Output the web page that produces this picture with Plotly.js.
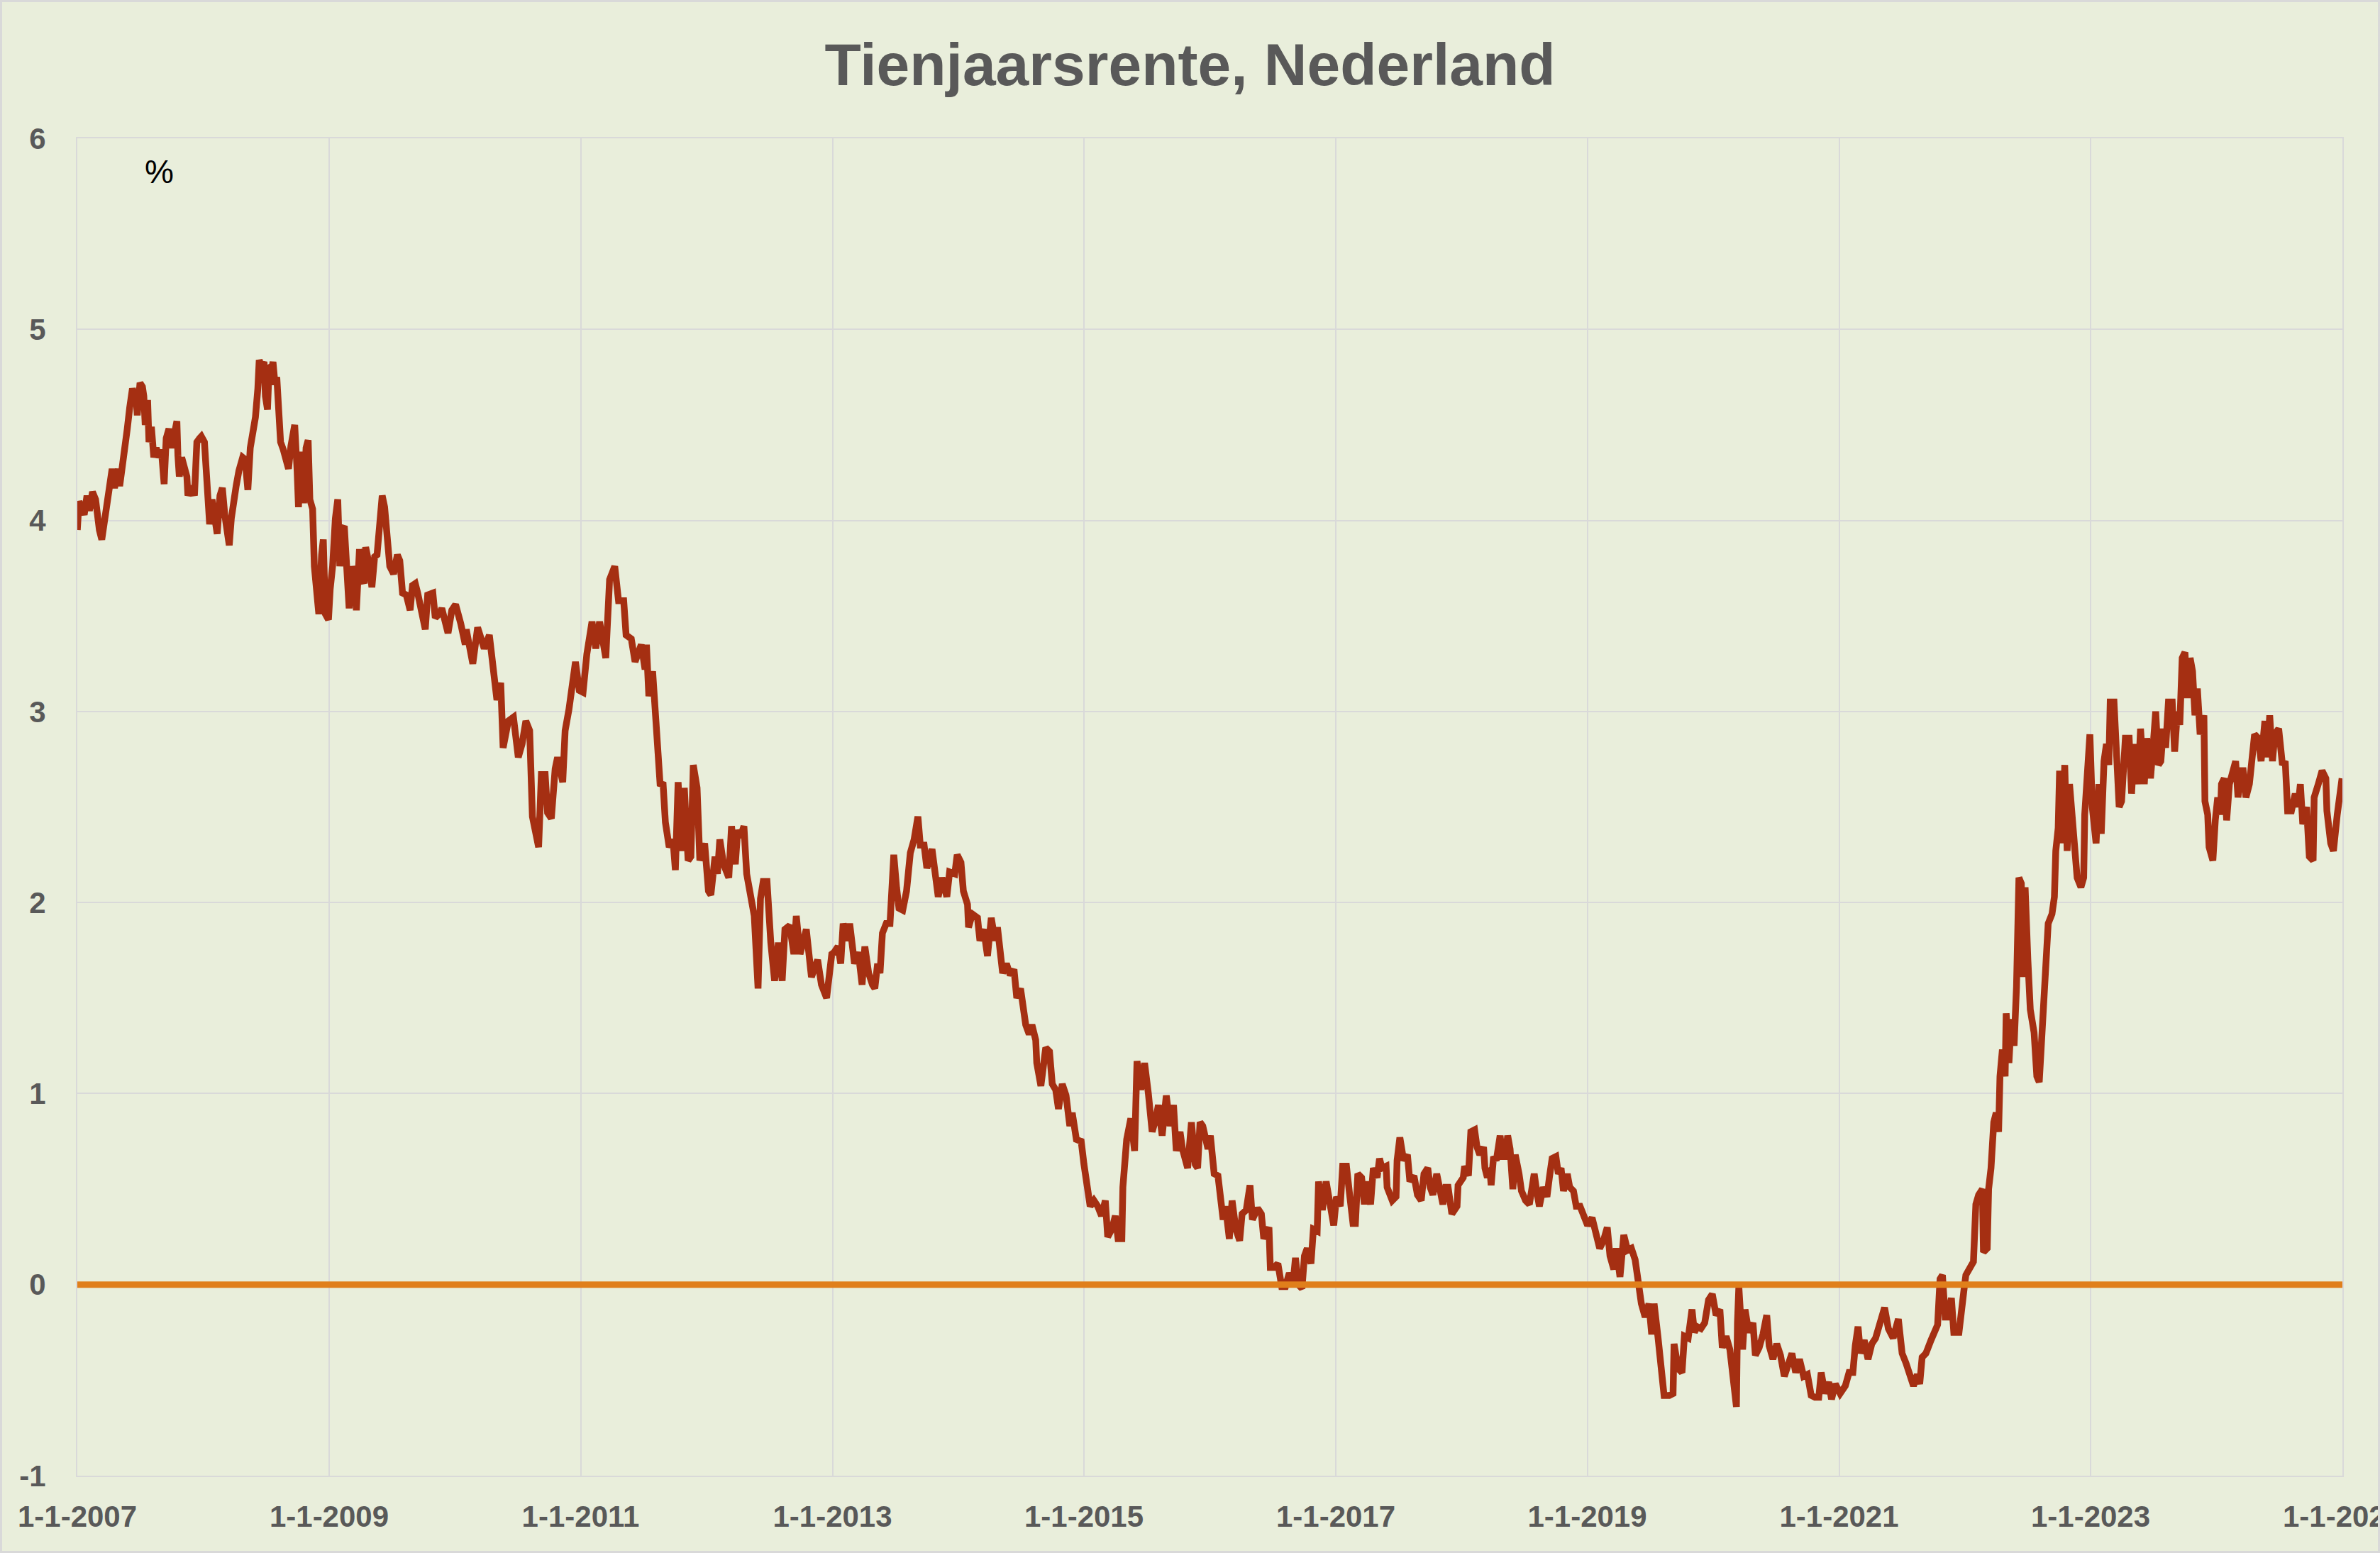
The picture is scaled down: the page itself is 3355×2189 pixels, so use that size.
<!DOCTYPE html>
<html>
<head>
<meta charset="utf-8">
<script src="https://cdn.plot.ly/plotly-3.0.1.min.js"></script>
<style>
  html, body { margin: 0; padding: 0; background: #E9EEDB; overflow: hidden; }
  #chart { width: 3349px; height: 2183px; border: 3px solid #D9D9D9; }
</style>
</head>
<body>
<div id="chart"></div>
<script>
// ---- DATA ----
// Observation time as decimal year, and the Dutch 10-year yield in %.
const obsYear = [
  // 2007 - early 2010
  2007.000, 2007.016, 2007.056, 2007.077, 2007.097, 2007.123, 2007.147, 2007.157, 2007.177, 2007.197,
  2007.218, 2007.238, 2007.278, 2007.298, 2007.328, 2007.338, 2007.359, 2007.379, 2007.399, 2007.419,
  2007.439, 2007.469, 2007.479, 2007.499, 2007.520, 2007.530, 2007.540, 2007.560, 2007.570, 2007.590,
  2007.610, 2007.630, 2007.651, 2007.671, 2007.691, 2007.707, 2007.731, 2007.751, 2007.771, 2007.792,
  2007.802, 2007.812, 2007.832, 2007.852, 2007.872, 2007.882, 2007.912, 2007.933, 2007.943, 2007.953,
  2007.973, 2007.989, 2008.013, 2008.033, 2008.053, 2008.073, 2008.094, 2008.114, 2008.134, 2008.154,
  2008.174, 2008.194, 2008.210, 2008.225, 2008.245, 2008.265, 2008.285, 2008.315, 2008.335, 2008.356,
  2008.376, 2008.396, 2008.416, 2008.436, 2008.446, 2008.466, 2008.486, 2008.496, 2008.513, 2008.527,
  2008.547, 2008.557, 2008.573, 2008.587, 2008.607, 2008.617, 2008.637, 2008.658, 2008.678, 2008.698,
  2008.728, 2008.748, 2008.758, 2008.778, 2008.798, 2008.819, 2008.835, 2008.849, 2008.869, 2008.883,
  2008.899, 2008.919, 2008.940, 2008.956, 2008.970, 2008.996, 2009.010, 2009.030, 2009.050, 2009.070,
  2009.085, 2009.101, 2009.121, 2009.141, 2009.161, 2009.181, 2009.201, 2009.217, 2009.242, 2009.262,
  2009.282, 2009.292, 2009.322, 2009.342, 2009.362, 2009.382, 2009.402, 2009.422, 2009.443, 2009.463,
  2009.483, 2009.513, 2009.543, 2009.564, 2009.584, 2009.614, 2009.644, 2009.664, 2009.685, 2009.705,
  2009.735, 2009.765, 2009.785, 2009.826, 2009.846, 2009.876, 2009.896, 2009.916, 2009.946, 2009.977,
  2010.007, 2010.047,
  // 2010 - 2012
  2010.083, 2010.093, 2010.143, 2010.183, 2010.234, 2010.274, 2010.304, 2010.335, 2010.365, 2010.385,
  2010.425, 2010.466, 2010.506, 2010.536, 2010.567, 2010.597, 2010.617, 2010.647, 2010.667, 2010.688,
  2010.718, 2010.738, 2010.768, 2010.798, 2010.819, 2010.859, 2010.879, 2010.909, 2010.940, 2010.960,
  2010.990, 2011.020, 2011.050, 2011.091, 2011.121, 2011.151, 2011.202, 2011.232, 2011.272, 2011.302,
  2011.343, 2011.363, 2011.403, 2011.433, 2011.484, 2011.514, 2011.524, 2011.544, 2011.575, 2011.605,
  2011.635, 2011.655, 2011.675, 2011.706, 2011.736, 2011.756, 2011.776, 2011.806, 2011.827, 2011.857,
  2011.877, 2011.897, 2011.927, 2011.948, 2011.988, 2012.018, 2012.038, 2012.069, 2012.089, 2012.109,
  2012.139, 2012.179, 2012.200, 2012.230, 2012.250, 2012.270, 2012.300, 2012.321, 2012.351, 2012.381,
  2012.411, 2012.431, 2012.452, 2012.482, 2012.512, 2012.542, 2012.573, 2012.603, 2012.623, 2012.663,
  2012.694, 2012.714, 2012.744, 2012.794, 2012.835, 2012.885, 2012.915, 2012.956, 2012.996,
  // 2013 - 2015
  2013.016, 2013.046, 2013.066, 2013.087, 2013.117, 2013.137, 2013.157, 2013.177, 2013.207, 2013.238,
  2013.258, 2013.288, 2013.318, 2013.338, 2013.359, 2013.379, 2013.399, 2013.429, 2013.459, 2013.469,
  2013.489, 2013.510, 2013.530, 2013.560, 2013.590, 2013.620, 2013.651, 2013.681, 2013.701, 2013.731,
  2013.751, 2013.792, 2013.822, 2013.842, 2013.872, 2013.912, 2013.933, 2013.973, 2013.993, 2014.023,
  2014.043, 2014.074, 2014.084, 2014.114, 2014.154, 2014.174, 2014.204, 2014.235, 2014.265, 2014.295,
  2014.315, 2014.335, 2014.355, 2014.386, 2014.416, 2014.446, 2014.466, 2014.496, 2014.517, 2014.537,
  2014.567, 2014.587, 2014.617, 2014.627, 2014.658, 2014.678, 2014.698, 2014.728, 2014.748, 2014.778,
  2014.799, 2014.829, 2014.859, 2014.889, 2014.909, 2014.940, 2014.980, 2015.000, 2015.030, 2015.050,
  2015.081, 2015.111, 2015.141, 2015.171, 2015.191, 2015.222, 2015.252, 2015.272, 2015.302, 2015.312,
  2015.342, 2015.373, 2015.403, 2015.423, 2015.453, 2015.483, 2015.514, 2015.544, 2015.574, 2015.594,
  2015.624, 2015.655, 2015.685, 2015.715, 2015.735, 2015.765, 2015.786, 2015.826, 2015.856, 2015.886,
  2015.906, 2015.926,
  // 2016 - 2018
  2015.947, 2015.987, 2016.007, 2016.037, 2016.068, 2016.088, 2016.108, 2016.128, 2016.158, 2016.179,
  2016.209, 2016.239, 2016.259, 2016.290, 2016.320, 2016.340, 2016.380, 2016.411, 2016.431, 2016.471,
  2016.481, 2016.512, 2016.542, 2016.572, 2016.602, 2016.633, 2016.663, 2016.683, 2016.703, 2016.734,
  2016.754, 2016.774, 2016.804, 2016.824, 2016.855, 2016.865, 2016.895, 2016.925, 2016.956, 2016.986,
  2017.006, 2017.036, 2017.057, 2017.087, 2017.107, 2017.137, 2017.157, 2017.178, 2017.208, 2017.228,
  2017.248, 2017.279, 2017.299, 2017.329, 2017.349, 2017.369, 2017.400, 2017.410, 2017.450, 2017.480,
  2017.490, 2017.511, 2017.541, 2017.571, 2017.591, 2017.622, 2017.652, 2017.682, 2017.702, 2017.733,
  2017.753, 2017.773, 2017.803, 2017.823, 2017.854, 2017.874, 2017.894, 2017.924, 2017.965, 2017.975,
  2018.015, 2018.025, 2018.056, 2018.076, 2018.106, 2018.126, 2018.146, 2018.177, 2018.187, 2018.207,
  2018.227, 2018.237, 2018.257, 2018.277, 2018.308, 2018.328, 2018.348, 2018.368, 2018.389, 2018.409,
  2018.429, 2018.459, 2018.479, 2018.510, 2018.540, 2018.560, 2018.580, 2018.600, 2018.621, 2018.651,
  2018.681, 2018.701, 2018.722, 2018.752, 2018.772, 2018.792, 2018.812, 2018.843, 2018.863, 2018.893,
  2018.913, 2018.943, 2018.974, 2019.004,
  // 2019 - 2021
  2019.040, 2019.070, 2019.101, 2019.131, 2019.161, 2019.181, 2019.211, 2019.231, 2019.261, 2019.291,
  2019.322, 2019.352, 2019.382, 2019.412, 2019.432, 2019.462, 2019.492, 2019.513, 2019.533, 2019.563,
  2019.583, 2019.613, 2019.653, 2019.683, 2019.693, 2019.724, 2019.754, 2019.774, 2019.804, 2019.834,
  2019.854, 2019.874, 2019.905, 2019.935, 2019.965, 2019.995, 2020.025, 2020.055, 2020.075, 2020.106,
  2020.136, 2020.156, 2020.186, 2020.196, 2020.206, 2020.236, 2020.256, 2020.286, 2020.317, 2020.337,
  2020.367, 2020.397, 2020.427, 2020.447, 2020.477, 2020.508, 2020.538, 2020.568, 2020.598, 2020.628,
  2020.658, 2020.688, 2020.719, 2020.749, 2020.779, 2020.809, 2020.839, 2020.859, 2020.889, 2020.920,
  2020.940, 2020.970, 2021.010, 2021.050, 2021.080, 2021.111, 2021.131, 2021.151, 2021.171, 2021.201,
  2021.231, 2021.261, 2021.291, 2021.312, 2021.342, 2021.362, 2021.392, 2021.432, 2021.472, 2021.503,
  2021.533, 2021.563, 2021.593, 2021.623, 2021.643, 2021.663, 2021.693, 2021.734, 2021.764, 2021.784,
  2021.804, 2021.824, 2021.844, 2021.864, 2021.894, 2021.915, 2021.955, 2021.975, 2021.995,
  // 2022 - 2024
  2022.009, 2022.039, 2022.069, 2022.090, 2022.110, 2022.140, 2022.150, 2022.180, 2022.190, 2022.210,
  2022.231, 2022.251, 2022.271, 2022.281, 2022.301, 2022.321, 2022.331, 2022.351, 2022.372, 2022.392,
  2022.412, 2022.432, 2022.452, 2022.462, 2022.482, 2022.503, 2022.523, 2022.553, 2022.573, 2022.593,
  2022.613, 2022.644, 2022.664, 2022.694, 2022.714, 2022.724, 2022.744, 2022.754, 2022.774, 2022.795,
  2022.815, 2022.835, 2022.855, 2022.875, 2022.895, 2022.925, 2022.946, 2022.956, 2022.976, 2022.996,
  2023.016, 2023.036, 2023.046, 2023.066, 2023.087, 2023.107, 2023.127, 2023.147, 2023.157, 2023.187,
  2023.207, 2023.228, 2023.248, 2023.278, 2023.308, 2023.328, 2023.348, 2023.379, 2023.399, 2023.429,
  2023.449, 2023.479, 2023.500, 2023.520, 2023.540, 2023.560, 2023.580, 2023.600, 2023.620, 2023.651,
  2023.671, 2023.691, 2023.711, 2023.731, 2023.751, 2023.771, 2023.792, 2023.812, 2023.832, 2023.852,
  2023.872, 2023.902, 2023.912, 2023.933, 2023.943, 2023.973, 2023.993, 2024.013, 2024.033, 2024.043,
  2024.063, 2024.084, 2024.104, 2024.134, 2024.154, 2024.174, 2024.194, 2024.215, 2024.235, 2024.265,
  2024.285, 2024.305, 2024.335, 2024.356, 2024.386, 2024.406, 2024.426, 2024.446, 2024.466, 2024.496,
  2024.527, 2024.547, 2024.567, 2024.597, 2024.627, 2024.648, 2024.668, 2024.688, 2024.718, 2024.738,
  2024.768, 2024.778, 2024.809, 2024.839, 2024.869, 2024.879, 2024.909, 2024.929, 2024.960, 2024.980,
  2024.998
];

const yieldPct = [
  // 2007 - early 2010
  3.95, 4.10, 4.03, 4.13, 4.05, 4.15, 4.11, 4.01, 3.95, 3.90,
  4.01, 4.11, 4.27, 4.17, 4.27, 4.18, 4.32, 4.36, 4.48, 4.59,
  4.69, 4.63, 4.55, 4.72, 4.70, 4.65, 4.50, 4.63, 4.41, 4.49,
  4.33, 4.38, 4.33, 4.37, 4.19, 4.43, 4.48, 4.38, 4.47, 4.52,
  4.34, 4.23, 4.33, 4.28, 4.23, 4.13, 4.18, 4.13, 4.32, 4.41,
  4.43, 4.44, 4.41, 4.23, 3.98, 4.11, 3.98, 3.93, 4.13, 4.17,
  4.03, 3.93, 3.87, 4.01, 4.13, 4.18, 4.26, 4.33, 4.32, 4.16,
  4.38, 4.44, 4.54, 4.69, 4.84, 4.80, 4.83, 4.65, 4.58, 4.81,
  4.80, 4.83, 4.71, 4.75, 4.57, 4.41, 4.37, 4.32, 4.27, 4.39,
  4.50, 4.26, 4.07, 4.36, 4.09, 4.38, 4.42, 4.11, 4.06, 3.76,
  3.64, 3.51, 3.82, 3.90, 3.51, 3.48, 3.64, 3.76, 4.01, 4.11,
  3.76, 3.95, 3.97, 3.67, 3.54, 3.76, 3.70, 3.53, 3.85, 3.70,
  3.67, 3.86, 3.76, 3.65, 3.81, 3.82, 4.01, 4.13, 4.07, 3.93,
  3.76, 3.72, 3.82, 3.79, 3.62, 3.61, 3.53, 3.66, 3.67, 3.62,
  3.51, 3.43, 3.61, 3.62, 3.49, 3.51, 3.54, 3.48, 3.41, 3.53,
  3.56, 3.46,
  // 2010 - 2012
  3.35, 3.43, 3.25, 3.44, 3.33, 3.40, 3.24, 3.06, 3.15, 2.81,
  2.95, 2.97, 2.76, 2.83, 2.95, 2.90, 2.45, 2.33, 2.29, 2.67,
  2.67, 2.47, 2.44, 2.70, 2.76, 2.63, 2.90, 3.01, 3.19, 3.26,
  3.11, 3.10, 3.30, 3.47, 3.33, 3.47, 3.28, 3.69, 3.76, 3.58,
  3.58, 3.40, 3.38, 3.26, 3.35, 3.22, 3.35, 3.08, 3.21, 2.83,
  2.61, 2.63, 2.42, 2.29, 2.33, 2.17, 2.63, 2.27, 2.60, 2.22,
  2.24, 2.72, 2.60, 2.22, 2.31, 2.06, 2.04, 2.24, 2.15, 2.33,
  2.20, 2.13, 2.40, 2.20, 2.38, 2.34, 2.40, 2.15, 2.02, 1.93,
  1.55, 2.02, 2.11, 2.11, 1.79, 1.59, 1.79, 1.59, 1.86, 1.88,
  1.73, 1.93, 1.73, 1.86, 1.61, 1.70, 1.57, 1.50, 1.73,
  // 2013 - 2015
  1.74, 1.77, 1.68, 1.89, 1.80, 1.89, 1.74, 1.68, 1.74, 1.57,
  1.77, 1.63, 1.57, 1.55, 1.68, 1.63, 1.84, 1.89, 1.89, 1.99,
  2.25, 2.08, 1.97, 1.96, 2.06, 2.26, 2.33, 2.45, 2.30, 2.30,
  2.18, 2.28, 2.11, 2.03, 2.13, 2.03, 2.16, 2.15, 2.25, 2.21,
  2.06, 1.99, 1.87, 1.94, 1.92, 1.80, 1.86, 1.72, 1.92, 1.80,
  1.87, 1.77, 1.63, 1.68, 1.62, 1.65, 1.50, 1.55, 1.43, 1.36,
  1.31, 1.36, 1.28, 1.16, 1.04, 1.14, 1.24, 1.22, 1.05, 1.02,
  0.92, 1.05, 0.99, 0.83, 0.90, 0.76, 0.75, 0.63, 0.49, 0.41,
  0.44, 0.41, 0.36, 0.44, 0.25, 0.29, 0.36, 0.24, 0.24, 0.51,
  0.76, 0.87, 0.70, 1.17, 1.02, 1.16, 1.00, 0.80, 0.87, 0.94,
  0.78, 0.99, 0.83, 0.94, 0.70, 0.80, 0.71, 0.61, 0.85, 0.63,
  0.61, 0.85,
  // 2016 - 2018
  0.83, 0.71, 0.78, 0.58, 0.57, 0.46, 0.34, 0.41, 0.24, 0.44,
  0.29, 0.23, 0.37, 0.39, 0.52, 0.34, 0.40, 0.37, 0.24, 0.30,
  0.09, 0.09, 0.11, -0.01, -0.01, 0.06, 0.01, 0.14, 0.00, -0.02,
  0.15, 0.19, 0.11, 0.29, 0.28, 0.54, 0.39, 0.54, 0.44, 0.31,
  0.46, 0.41, 0.62, 0.62, 0.49, 0.32, 0.32, 0.58, 0.56, 0.42,
  0.54, 0.42, 0.61, 0.56, 0.66, 0.61, 0.62, 0.51, 0.44, 0.46,
  0.65, 0.77, 0.65, 0.68, 0.54, 0.57, 0.47, 0.44, 0.58, 0.61,
  0.51, 0.47, 0.58, 0.50, 0.42, 0.51, 0.51, 0.37, 0.41, 0.52,
  0.56, 0.62, 0.57, 0.80, 0.81, 0.72, 0.68, 0.72, 0.61, 0.56,
  0.61, 0.52, 0.67, 0.65, 0.78, 0.67, 0.67, 0.78, 0.71, 0.50,
  0.68, 0.58, 0.49, 0.44, 0.42, 0.50, 0.58, 0.49, 0.41, 0.51,
  0.46, 0.56, 0.66, 0.67, 0.58, 0.61, 0.49, 0.58, 0.51, 0.49,
  0.41, 0.41, 0.36, 0.31,
  // 2019 - 2021
  0.35, 0.25, 0.19, 0.23, 0.30, 0.15, 0.08, 0.19, 0.04, 0.26,
  0.18, 0.19, 0.13, -0.01, -0.10, -0.17, -0.10, -0.26, -0.10, -0.27,
  -0.38, -0.58, -0.58, -0.57, -0.31, -0.44, -0.46, -0.27, -0.28, -0.13,
  -0.25, -0.22, -0.23, -0.20, -0.08, -0.05, -0.16, -0.13, -0.33, -0.27,
  -0.34, -0.48, -0.64, -0.20, -0.01, -0.34, -0.13, -0.25, -0.20, -0.37,
  -0.33, -0.26, -0.16, -0.32, -0.39, -0.31, -0.37, -0.48, -0.42, -0.36,
  -0.46, -0.39, -0.48, -0.47, -0.58, -0.59, -0.59, -0.46, -0.57, -0.51,
  -0.60, -0.52, -0.57, -0.53, -0.46, -0.46, -0.32, -0.22, -0.36, -0.29,
  -0.39, -0.31, -0.28, -0.23, -0.17, -0.12, -0.23, -0.28, -0.18, -0.36,
  -0.41, -0.48, -0.53, -0.47, -0.52, -0.38, -0.36, -0.29, -0.23, -0.21,
  0.03, 0.05, -0.17, -0.17, -0.07, -0.25, -0.25, -0.10, -0.02,
  // 2022 - 2024
  0.05, 0.09, 0.12, 0.42, 0.47, 0.50, 0.17, 0.19, 0.50, 0.61,
  0.85, 0.90, 0.80, 1.09, 1.23, 1.09, 1.42, 1.16, 1.39, 1.25,
  1.56, 2.13, 2.10, 1.61, 2.08, 1.70, 1.44, 1.32, 1.09, 1.06,
  1.28, 1.56, 1.89, 1.94, 2.03, 2.27, 2.39, 2.69, 2.31, 2.72,
  2.27, 2.62, 2.46, 2.27, 2.13, 2.08, 2.13, 2.46, 2.76, 2.88,
  2.50, 2.34, 2.31, 2.62, 2.36, 2.74, 2.83, 2.72, 3.05, 3.05,
  2.67, 2.50, 2.53, 2.86, 2.86, 2.57, 2.83, 2.62, 2.91, 2.62,
  2.86, 2.65, 2.83, 3.00, 2.72, 2.74, 2.91, 2.81, 3.05, 3.05,
  2.79, 3.00, 2.93, 3.28, 3.31, 3.07, 3.28, 3.21, 2.98, 3.12,
  2.88, 2.98, 2.53, 2.46, 2.29, 2.22, 2.43, 2.55, 2.46, 2.62,
  2.65, 2.43, 2.62, 2.69, 2.74, 2.55, 2.69, 2.69, 2.55, 2.62,
  2.76, 2.88, 2.86, 2.74, 2.95, 2.76, 2.98, 2.74, 2.88, 2.91,
  2.72, 2.74, 2.48, 2.48, 2.57, 2.50, 2.62, 2.41, 2.50, 2.24,
  2.22, 2.55, 2.62, 2.69, 2.65, 2.48, 2.31, 2.27, 2.46, 2.60,
  2.65
];

// Zero reference series (orange line)
const zeroDates = ['2007-01-01', '2025-01-01'];
const zeroValues = [0, 0];

// Axis tick labels
const xTickDates = ['2007-01-01', '2009-01-01', '2011-01-01', '2013-01-01', '2015-01-01',
                    '2017-01-01', '2019-01-01', '2021-01-01', '2023-01-01', '2025-01-01'];
const xTickText = ['1-1-2007', '1-1-2009', '1-1-2011', '1-1-2013', '1-1-2015',
                   '1-1-2017', '1-1-2019', '1-1-2021', '1-1-2023', '1-1-2025'];
const yTickVals = [-1, 0, 1, 2, 3, 4, 5, 6];
const yTickText = ['-1', '0', '1', '2', '3', '4', '5', '6'];

const chartTitle = 'Tienjaarsrente, Nederland';
const unitLabel = '%';

// ---- helpers ----
function yearToDate(t) {
  const y = Math.floor(t);
  const start = Date.UTC(y, 0, 1);
  const end = Date.UTC(y + 1, 0, 1);
  const d = new Date(start + (t - y) * (end - start));
  return d.toISOString().slice(0, 10);
}
const obsDates = obsYear.map(yearToDate);

const FONT = 'Liberation Sans, Arial, sans-serif';
const GREY = '#595959';
const GRID = '#D9D9D9';
const BG = '#E9EEDB';

const traces = [
  {
    type: 'scatter', mode: 'lines',
    x: obsDates, y: yieldPct,
    line: { color: '#A52F12', width: 9.5, shape: 'linear' },
    hoverinfo: 'x+y', showlegend: false
  },
  {
    type: 'scatter', mode: 'lines',
    x: zeroDates, y: zeroValues,
    line: { color: '#E07F1B', width: 9 },
    hoverinfo: 'skip', showlegend: false
  }
];

const layout = {
  width: 3349, height: 2183,
  margin: { l: 106, r: 50, t: 192, b: 106 },
  paper_bgcolor: BG, plot_bgcolor: BG,
  title: {
    text: chartTitle,
    font: { family: FONT, size: 84, color: GREY, weight: 'bold' },
    x: 0.5, xanchor: 'center', xref: 'container',
    y: 0.960, yanchor: 'middle', yref: 'container'
  },
  xaxis: {
    type: 'date',
    range: ['2007-01-01', '2025-01-01'],
    tickmode: 'array', tickvals: xTickDates, ticktext: xTickText,
    showgrid: true, gridcolor: GRID, gridwidth: 2,
    zeroline: false,
    showline: true, linecolor: GRID, linewidth: 2, mirror: true,
    ticks: 'outside', ticklen: 20, tickcolor: 'rgba(0,0,0,0)',
    ticklabeloverflow: 'allow',
    tickfont: { family: FONT, size: 42, color: GREY, weight: 'bold' }
  },
  yaxis: {
    range: [-1, 6],
    tickmode: 'array', tickvals: yTickVals, ticktext: yTickText,
    showgrid: true, gridcolor: GRID, gridwidth: 2,
    zeroline: false,
    showline: true, linecolor: GRID, linewidth: 2, mirror: true,
    ticks: 'outside', ticklen: 34, tickcolor: 'rgba(0,0,0,0)',
    tickfont: { family: FONT, size: 42, color: GREY, weight: 'bold' }
  },
  annotations: [
    {
      text: unitLabel, xref: 'paper', yref: 'paper',
      x: 0.0363, y: 0.975, xanchor: 'center', yanchor: 'middle',
      showarrow: false,
      font: { family: FONT, size: 46, color: '#000000' }
    }
  ]
};

Plotly.newPlot('chart', traces, layout, { displayModeBar: false, staticPlot: true });
</script>
</body>
</html>
